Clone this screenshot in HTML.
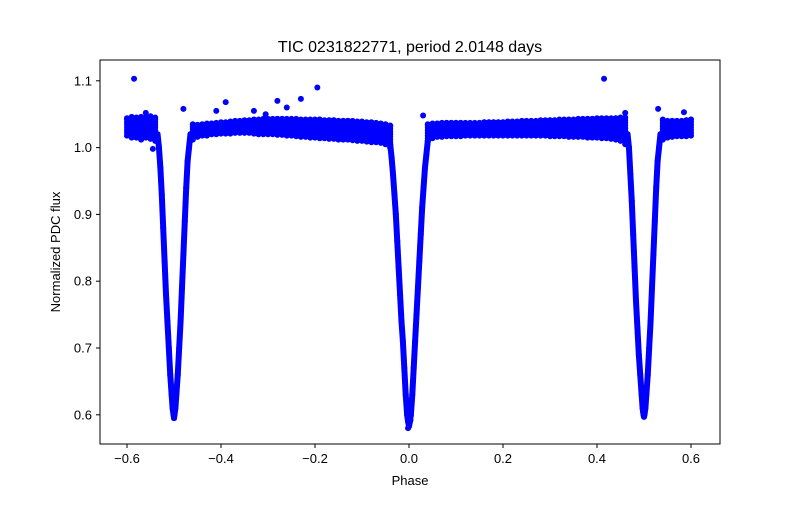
<!DOCTYPE html>
<html><head><meta charset="utf-8"><style>
body{margin:0;background:#fff}
svg text{font-family:"Liberation Sans","DejaVu Sans",sans-serif;fill:#000}
</style></head><body>
<svg id="chart" width="800" height="500" viewBox="0 0 800 500" xmlns="http://www.w3.org/2000/svg">
<rect width="800" height="500" fill="#fff"/>
<text x="410" y="52" font-size="16" text-anchor="middle">TIC 0231822771, period 2.0148 days</text>
<g id="marks"></g>
<rect x="100" y="60" width="620" height="384" fill="none" stroke="#000" stroke-width="1"/>
<g id="xticks"></g>
<g id="yticks"></g>
<text x="410" y="485" font-size="13" text-anchor="middle">Phase</text>
<text transform="translate(60,252) rotate(-90)" font-size="13" text-anchor="middle">Normalized PDC flux</text>
</svg>
<script>
const xTickValues=[-0.6,-0.4,-0.2,0.0,0.2,0.4,0.6];
const xTickLabels=["−0.6","−0.4","−0.2","0.0","0.2","0.4","0.6"];
const yTickValues=[0.6,0.7,0.8,0.9,1.0,1.1];
const yTickLabels=["0.6","0.7","0.8","0.9","1.0","1.1"];
const basePhase=[-0.6,-0.59,-0.58,-0.57,-0.56,-0.55,-0.54,-0.46,-0.45,-0.44,-0.43,-0.42,-0.41,-0.4,-0.39,-0.38,-0.37,-0.36,-0.35,-0.34,-0.33,-0.32,-0.31,-0.3,-0.29,-0.28,-0.27,-0.26,-0.25,-0.24,-0.23,-0.22,-0.21,-0.2,-0.19,-0.18,-0.17,-0.16,-0.15,-0.14,-0.13,-0.12,-0.11,-0.1,-0.09,-0.08,-0.07,-0.06,-0.05,-0.04,0.04,0.05,0.06,0.07,0.08,0.09,0.1,0.11,0.12,0.13,0.14,0.15,0.16,0.17,0.18,0.19,0.2,0.21,0.22,0.23,0.24,0.25,0.26,0.27,0.28,0.29,0.3,0.31,0.32,0.33,0.34,0.35,0.36,0.37,0.38,0.39,0.4,0.41,0.42,0.43,0.44,0.45,0.46,0.54,0.55,0.56,0.57,0.58,0.59,0.6];
const baseLow=[1.018,1.015,1.015,1.012,1.015,1.013,1.01,1.012,1.016,1.018,1.018,1.02,1.02,1.021,1.021,1.021,1.022,1.022,1.022,1.022,1.021,1.02,1.02,1.02,1.02,1.019,1.019,1.018,1.018,1.017,1.016,1.016,1.015,1.015,1.014,1.014,1.013,1.013,1.012,1.012,1.012,1.011,1.01,1.01,1.009,1.008,1.008,1.007,1.005,1.0,1.01,1.014,1.016,1.016,1.017,1.017,1.017,1.017,1.018,1.018,1.018,1.018,1.018,1.018,1.018,1.018,1.018,1.018,1.018,1.018,1.018,1.018,1.018,1.018,1.018,1.018,1.017,1.017,1.017,1.017,1.016,1.016,1.016,1.016,1.015,1.015,1.015,1.014,1.014,1.013,1.012,1.01,1.005,1.012,1.015,1.016,1.017,1.017,1.017,1.018];
const baseHigh=[1.044,1.046,1.045,1.046,1.045,1.047,1.045,1.035,1.034,1.035,1.036,1.036,1.037,1.038,1.038,1.039,1.04,1.04,1.041,1.041,1.042,1.042,1.043,1.043,1.043,1.043,1.043,1.043,1.043,1.043,1.042,1.042,1.042,1.042,1.042,1.041,1.041,1.041,1.04,1.04,1.04,1.04,1.039,1.039,1.038,1.038,1.037,1.036,1.035,1.033,1.035,1.036,1.036,1.037,1.037,1.037,1.037,1.037,1.037,1.037,1.037,1.037,1.038,1.038,1.038,1.038,1.038,1.039,1.039,1.039,1.04,1.04,1.04,1.04,1.041,1.041,1.041,1.041,1.042,1.042,1.042,1.042,1.043,1.043,1.043,1.043,1.044,1.044,1.044,1.044,1.044,1.045,1.045,1.042,1.04,1.04,1.04,1.04,1.041,1.042];
const primPhase=[-0.04,-0.037,-0.034,-0.031,-0.028,-0.025,-0.022,-0.019,-0.016,-0.013,-0.01,-0.007,-0.004,-0.002,0,0.002,0.004,0.007,0.01,0.013,0.016,0.019,0.022,0.025,0.028,0.031,0.034,0.037,0.04];
const primFlux=[1.005,0.985,0.96,0.93,0.9,0.86,0.82,0.78,0.74,0.71,0.67,0.63,0.6,0.59,0.583,0.59,0.6,0.63,0.67,0.71,0.75,0.79,0.83,0.87,0.91,0.94,0.97,0.99,1.01];
const secLPhase=[-0.535,-0.532,-0.529,-0.526,-0.523,-0.52,-0.517,-0.514,-0.511,-0.508,-0.505,-0.503,-0.501,-0.5,-0.499,-0.497,-0.495,-0.492,-0.489,-0.486,-0.483,-0.48,-0.477,-0.474,-0.471,-0.468,-0.465];
const secLFlux=[1.02,1.0,0.97,0.93,0.88,0.83,0.78,0.74,0.7,0.66,0.63,0.61,0.6,0.595,0.6,0.61,0.63,0.66,0.7,0.74,0.79,0.84,0.89,0.94,0.98,1.0,1.02];
const secRPhase=[0.465,0.468,0.471,0.474,0.477,0.48,0.483,0.486,0.489,0.492,0.495,0.497,0.499,0.5,0.501,0.503,0.505,0.508,0.511,0.514,0.517,0.52,0.523,0.526,0.529,0.532,0.535];
const secRFlux=[1.02,1.0,0.96,0.92,0.87,0.82,0.77,0.73,0.69,0.66,0.63,0.61,0.6,0.597,0.6,0.61,0.63,0.66,0.7,0.74,0.79,0.84,0.89,0.94,0.98,1.0,1.02];
const outPhase=[-0.585,0.415,-0.195,-0.23,-0.28,-0.39,-0.48,-0.41,-0.26,-0.33,-0.305,-0.56,0.53,0.585,0.46,0.03,-0.545,-0.04,-0.002,0.003,-0.5,0.5,-0.498,0.498];
const outFlux=[1.103,1.103,1.09,1.073,1.07,1.068,1.058,1.055,1.06,1.055,1.05,1.052,1.058,1.053,1.052,1.048,0.998,1.0,0.58,0.592,0.6,0.6,0.61,0.605];

const X=v=>409+v*470, Y=v=>147.6-(v-1.0)*668;
const NS="http://www.w3.org/2000/svg", g=document.getElementById('marks');
function dot(p,f,name){
  const c=document.createElementNS(NS,'circle');
  c.setAttribute('cx',X(p));c.setAttribute('cy',Y(f));c.setAttribute('r',3);c.setAttribute('fill','#0000ff');
  
  
  g.appendChild(c);
}
basePhase.forEach((p,i)=>{for(let f=baseLow[i];f<=baseHigh[i]+1e-9;f+=0.004)dot(p,f,'baseline-point');dot(p,baseHigh[i],'baseline-point');});
function eclipse(ph,fl,name){
  const pl=document.createElementNS(NS,'polyline');
  pl.setAttribute('points',ph.map((p,i)=>X(p)+','+Y(fl[i])).join(' '));
  pl.setAttribute('fill','none');pl.setAttribute('stroke','#0000ff');pl.setAttribute('stroke-width',6);
  pl.setAttribute('stroke-linejoin','round');pl.setAttribute('stroke-linecap','round');
  
  
  g.appendChild(pl);
  ph.forEach((p,i)=>dot(p,fl[i],name+'-point'));
}
eclipse(primPhase,primFlux,'primary-eclipse');
eclipse(secLPhase,secLFlux,'secondary-eclipse-left');
eclipse(secRPhase,secRFlux,'secondary-eclipse-right');
outPhase.forEach((p,i)=>dot(p,outFlux[i],'outlier-point'));
const xt=document.getElementById('xticks'), yt=document.getElementById('yticks');
xTickValues.forEach((v,i)=>{
  const l=document.createElementNS(NS,'line');
  l.setAttribute('x1',X(v));l.setAttribute('x2',X(v));l.setAttribute('y1',444);l.setAttribute('y2',448);l.setAttribute('stroke','#000');
  
  
  xt.appendChild(l);
  const t=document.createElementNS(NS,'text');
  t.setAttribute('x',X(v));t.setAttribute('y',463);t.setAttribute('font-size',13);t.setAttribute('text-anchor','middle');
  t.textContent=xTickLabels[i];
  
  
  xt.appendChild(t);
});
yTickValues.forEach((v,i)=>{
  const l=document.createElementNS(NS,'line');
  l.setAttribute('x1',96);l.setAttribute('x2',100);l.setAttribute('y1',Y(v));l.setAttribute('y2',Y(v));l.setAttribute('stroke','#000');
  
  
  yt.appendChild(l);
  const t=document.createElementNS(NS,'text');
  t.setAttribute('x',92);t.setAttribute('y',Y(v)+4.5);t.setAttribute('font-size',13);t.setAttribute('text-anchor','end');
  t.textContent=yTickLabels[i];
  
  
  yt.appendChild(t);
});
</script>
</body></html>
